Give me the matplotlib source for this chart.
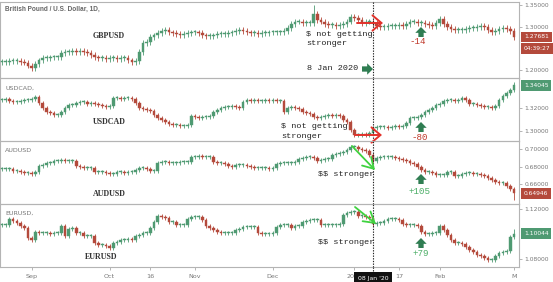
import numpy as np
import pandas as pd
import matplotlib
matplotlib.use("Agg")
import matplotlib.pyplot as plt

# ---------------- data (daily closes) ----------------
start_date = "2019-08-21"

gbp_close = [
    1.219, 1.219, 1.221, 1.221, 1.221,
    1.219, 1.217, 1.210, 1.205, 1.214,
    1.223, 1.228, 1.228, 1.230, 1.230,
    1.230, 1.240, 1.242, 1.242, 1.244,
    1.242, 1.244, 1.242, 1.240, 1.235,
    1.230, 1.228, 1.228, 1.226, 1.228,
    1.228, 1.226, 1.228, 1.228, 1.223,
    1.219, 1.221, 1.242, 1.263, 1.265,
    1.277, 1.281, 1.286, 1.291, 1.293,
    1.288, 1.286, 1.284, 1.281, 1.284,
    1.286, 1.288, 1.288, 1.286, 1.281,
    1.279, 1.279, 1.281, 1.284, 1.284,
    1.284, 1.286, 1.288, 1.291, 1.293,
    1.291, 1.288, 1.286, 1.286, 1.284,
    1.286, 1.286, 1.288, 1.288, 1.288,
    1.288, 1.291, 1.298, 1.307, 1.312,
    1.312, 1.309, 1.309, 1.309, 1.330,
    1.316, 1.312, 1.307, 1.305, 1.305,
    1.302, 1.305, 1.307, 1.312, 1.323,
    1.321, 1.316, 1.309, 1.312, 1.312,
    1.309, 1.302, 1.300, 1.300, 1.302,
    1.302, 1.302, 1.305, 1.302, 1.307,
    1.312, 1.312, 1.309, 1.309, 1.307,
    1.305, 1.302, 1.309, 1.319, 1.307,
    1.300, 1.295, 1.293, 1.293, 1.293,
    1.295, 1.298, 1.298, 1.300, 1.302,
    1.300, 1.293, 1.288, 1.291, 1.295,
    1.298, 1.295, 1.291, 1.27681,
]

cad_close = [
    1.3271, 1.3280, 1.3262, 1.3253, 1.3253,
    1.3262, 1.3271, 1.3271, 1.3280, 1.3298,
    1.3244, 1.3200, 1.3164, 1.3156, 1.3138,
    1.3138, 1.3164, 1.3200, 1.3227, 1.3227,
    1.3244, 1.3253, 1.3253, 1.3236, 1.3244,
    1.3236, 1.3227, 1.3218, 1.3209, 1.3218,
    1.3289, 1.3289, 1.3280, 1.3289, 1.3289,
    1.3280, 1.3244, 1.3200, 1.3191, 1.3182,
    1.3173, 1.3138, 1.3111, 1.3093, 1.3076,
    1.3058, 1.3049, 1.3049, 1.3040, 1.3040,
    1.3049, 1.3129, 1.3120, 1.3111, 1.3120,
    1.3120, 1.3129, 1.3164, 1.3182, 1.3200,
    1.3209, 1.3209, 1.3218, 1.3209, 1.3200,
    1.3253, 1.3271, 1.3262, 1.3271, 1.3262,
    1.3262, 1.3271, 1.3262, 1.3271, 1.3262,
    1.3262, 1.3164, 1.3200, 1.3209, 1.3200,
    1.3191, 1.3164, 1.3156, 1.3147, 1.3120,
    1.3111, 1.3120, 1.3129, 1.3138, 1.3129,
    1.3138, 1.3129, 1.3093, 1.3076, 1.3004,
    1.2960, 1.2960, 1.2969, 1.2960, 1.2978,
    1.3022, 1.3031, 1.3031, 1.3031, 1.3022,
    1.3031, 1.3040, 1.3031, 1.3040, 1.3067,
    1.3111, 1.3111, 1.3120, 1.3138, 1.3164,
    1.3182, 1.3200, 1.3227, 1.3236, 1.3262,
    1.3271, 1.3271, 1.3262, 1.3271, 1.3289,
    1.3271, 1.3236, 1.3236, 1.3227, 1.3218,
    1.3209, 1.3209, 1.3200, 1.3218, 1.3271,
    1.3307, 1.3333, 1.3360, 1.34045,
]

aud_close = [
    0.6774, 0.6774, 0.6774, 0.6751, 0.6751,
    0.6739, 0.6728, 0.6728, 0.6717, 0.6739,
    0.6808, 0.6819, 0.6842, 0.6842, 0.6865,
    0.6865, 0.6877, 0.6865, 0.6865, 0.6865,
    0.6808, 0.6797, 0.6785, 0.6785, 0.6785,
    0.6739, 0.6739, 0.6739, 0.6728, 0.6717,
    0.6717, 0.6739, 0.6739, 0.6728, 0.6739,
    0.6739, 0.6762, 0.6785, 0.6785, 0.6774,
    0.6751, 0.6751, 0.6842, 0.6854, 0.6854,
    0.6842, 0.6842, 0.6842, 0.6854, 0.6854,
    0.6854, 0.6911, 0.6911, 0.6922, 0.6911,
    0.6911, 0.6911, 0.6854, 0.6842, 0.6842,
    0.6831, 0.6808, 0.6797, 0.6819, 0.6819,
    0.6819, 0.6808, 0.6797, 0.6785, 0.6785,
    0.6785, 0.6785, 0.6774, 0.6785, 0.6831,
    0.6842, 0.6842, 0.6842, 0.6842, 0.6854,
    0.6888, 0.6899, 0.6911, 0.6911, 0.6899,
    0.6865, 0.6877, 0.6888, 0.6888, 0.6934,
    0.6945, 0.6957, 0.6968, 0.6991, 0.7025,
    0.7025, 0.7002, 0.6991, 0.6979, 0.6934,
    0.6865, 0.6899, 0.6911, 0.6911, 0.6911,
    0.6911, 0.6899, 0.6888, 0.6877, 0.6865,
    0.6842, 0.6831, 0.6797, 0.6762, 0.6739,
    0.6739, 0.6728, 0.6705, 0.6705, 0.6705,
    0.6739, 0.6739, 0.6694, 0.6694, 0.6717,
    0.6728, 0.6728, 0.6717, 0.6717, 0.6705,
    0.6694, 0.6671, 0.6648, 0.6625, 0.6614,
    0.6614, 0.6579, 0.6545, 0.64946,
]

eur_close = [
    1.1074, 1.1074, 1.1122, 1.1106, 1.1090,
    1.1066, 1.1050, 1.0970, 1.0954, 1.1018,
    1.1010, 1.1010, 1.1010, 1.1002, 1.1010,
    1.1010, 1.1066, 1.0986, 1.1042, 1.1050,
    1.1010, 1.1010, 1.0986, 1.0986, 1.0986,
    1.0930, 1.0914, 1.0914, 1.0906, 1.0890,
    1.0930, 1.0938, 1.0954, 1.0954, 1.0962,
    1.0954, 1.0986, 1.0994, 1.1010, 1.1010,
    1.1050, 1.1098, 1.1146, 1.1138, 1.1130,
    1.1098, 1.1098, 1.1074, 1.1074, 1.1074,
    1.1122, 1.1138, 1.1138, 1.1138, 1.1114,
    1.1066, 1.1050, 1.1034, 1.1018, 1.1010,
    1.1010, 1.1010, 1.1010, 1.1034, 1.1042,
    1.1058, 1.1058, 1.1058, 1.1058, 1.1010,
    1.1002, 1.1002, 1.1002, 1.1010, 1.1058,
    1.1074, 1.1074, 1.1074, 1.1050, 1.1066,
    1.1066, 1.1098, 1.1106, 1.1114, 1.1114,
    1.1114, 1.1074, 1.1074, 1.1074, 1.1074,
    1.1074, 1.1082, 1.1154, 1.1170, 1.1178,
    1.1178, 1.1146, 1.1146, 1.1138, 1.1130,
    1.1082, 1.1090, 1.1090, 1.1106, 1.1122,
    1.1122, 1.1122, 1.1114, 1.1082, 1.1074,
    1.1074, 1.1074, 1.1066, 1.1018, 1.1002,
    1.1002, 1.1010, 1.1010, 1.1066, 1.1034,
    1.0994, 1.0954, 1.0930, 1.0930, 1.0922,
    1.0898, 1.0874, 1.0858, 1.0834, 1.0826,
    1.0810, 1.0794, 1.0794, 1.0826, 1.0850,
    1.0858, 1.0866, 1.0978, 1.10044,
]

# a few long wicks visible in the picture (index: price)
gbp_high = {84: 1.350}
cad_high = {138: 1.3430}
aud_low = {138: 0.6420}
eur_high = {138: 1.1040}

tick_dates = ["2019-09-02", "2019-10-01", "2019-10-16", "2019-11-01",
              "2019-12-02", "2020-01-01", "2020-01-17", "2020-02-03", "2020-03-02"]
tick_labels = ["Sep", "Oct", "16", "Nov", "Dec", "20", "17", "Feb", "M"]
marker_date = "2020-01-08"
marker_label = "08 Jan '20"

# ---------------- style ----------------
W, H = 553, 282
UP = "#4f9a72"
DOWN = "#b44a3c"
GRID = "#b4b4b4"
TXT = "#777777"
MONO = "Liberation Mono"
SERIF = "Liberation Serif"
SANS = "Liberation Sans"

fig = plt.figure(figsize=(W / 100, H / 100), dpi=100)
fig.patch.set_facecolor("white")

dates = pd.bdate_range(start_date, periods=len(gbp_close))


def date_index(d):
    return int(np.searchsorted(dates.values, np.datetime64(d)))


def rect(top, bottom, left=0, right=519):
    return [left / W, 1 - bottom / H, (right - left) / W, (bottom - top) / H]


def fpx(x, y):
    return (x, H - y)


def draw_candles(ax, closes, highs=None, lows=None):
    c = np.asarray(closes, float)
    o = np.empty_like(c)
    o[1:] = c[:-1]
    o[0] = c[0]
    x = np.arange(len(c))
    lo_lim, hi_lim = ax.get_ylim()
    rng = hi_lim - lo_lim
    top = np.maximum(o, c)
    bot = np.minimum(o, c)
    hi = top + 0.035 * rng
    lo = bot - 0.035 * rng
    for k, v in (highs or {}).items():
        hi[k] = max(hi[k], v)
    for k, v in (lows or {}).items():
        lo[k] = min(lo[k], v)
    body = np.maximum(top - bot, 0.012 * rng)
    cols = np.where(c >= o, UP, DOWN)
    ax.vlines(x, lo, hi, colors=cols, lw=0.6, zorder=2)
    ax.bar(x, body, bottom=bot, width=0.72, color=cols, edgecolor=cols,
           lw=0.3, zorder=3)
    return c[-1], cols[-1]


panels = [
    dict(close=gbp_close, hi=gbp_high, lo=None, box=(2, 78),
         ylim=(1.1817, 1.358), ticks=[1.20, 1.30, 1.35]),
    dict(close=cad_close, hi=cad_high, lo=None, box=(78, 141),
         ylim=(1.2907, 1.3467), ticks=[1.30, 1.32]),
    dict(close=aud_close, hi=None, lo=aud_low, box=(141, 204),
         ylim=(0.6374, 0.7094), ticks=[0.66, 0.68, 0.70]),
    dict(close=eur_close, hi=eur_high, lo=None, box=(204, 267),
         ylim=(1.0738, 1.1242), ticks=[1.08, 1.12]),
]

jan8 = date_index(marker_date)
axes = []
for k, p in enumerate(panels):
    ax = fig.add_axes(rect(*p["box"]))
    ax.set_facecolor("none")
    ax.set_xlim(-0.54, 139.35)
    ax.set_ylim(*p["ylim"])
    last, lastcol = draw_candles(ax, p["close"], p["hi"], p["lo"])
    for s in ax.spines.values():
        s.set_color(GRID)
        s.set_linewidth(0.8)
    ax.yaxis.tick_right()
    ax.set_yticks(p["ticks"])
    ax.set_yticklabels([f"{t:.5f}" for t in p["ticks"]])
    ax.tick_params(axis="y", length=2, width=0.5, color="#999999",
                   labelsize=4.3, labelcolor=TXT, pad=2)
    ax.axvline(jan8, color="#222222", lw=0.8, ls=(0, (1.2, 1.2)), zorder=6)
    # last price box
    ax.annotate(f"{last:.5f}", xy=(1, last), xycoords=("axes fraction", "data"),
                xytext=(3.5, 0), textcoords="offset points", ha="left", va="center",
                fontsize=4.3, color="white", zorder=10, annotation_clip=False,
                bbox=dict(boxstyle="square,pad=0.5", fc=lastcol, ec="none"))
    if k == 0:
        ax.annotate("04:39:27", xy=(1, last), xycoords=("axes fraction", "data"),
                    xytext=(3.5, -8.0), textcoords="offset points", ha="left",
                    va="center", fontsize=4.3, color="white", zorder=10,
                    annotation_clip=False,
                    bbox=dict(boxstyle="square,pad=0.5", fc=lastcol, ec="none"))
    if k < 3:
        ax.set_xticks([])
    else:
        ax.set_xticks([date_index(d) for d in tick_dates])
        ax.set_xticklabels(tick_labels)
        ax.tick_params(axis="x", length=2, width=0.5, color="#999999",
                       labelsize=4.6, labelcolor=TXT, pad=3)
        for lab in ax.get_xticklabels():
            if lab.get_text() == "20":
                lab.set_horizontalalignment("right")
        ax.axvline(jan8, ymin=-0.06, ymax=0, color="#222222", lw=0.8,
                   ls=(0, (1.2, 1.2)), clip_on=False, zorder=6)
        ax.annotate(marker_label, xy=(jan8, 0), xycoords=("data", "axes fraction"),
                    xytext=(0, -8), textcoords="offset points", ha="center",
                    va="center", fontsize=4.4, color="white", zorder=12,
                    annotation_clip=False,
                    bbox=dict(boxstyle="square,pad=0.55", fc="#111111", ec="none"))
    axes.append(ax)


def ftext(x, y, s, **kw):
    fig.text(x / W, 1 - y / H, s, parse_math=False, **kw)


# panel titles (top-left, small grey)
ftext(5, 9, "British Pound / U.S. Dollar, 1D,", fontsize=4.7, family=SANS,
      color="#666666", fontweight="bold", va="center")
ftext(5, 88, "USDCAD,", fontsize=4.6, color="#777777", va="center")
ftext(5, 150, "AUDUSD", fontsize=4.6, color="#777777", va="center")
ftext(5, 213, "EURUSD,", fontsize=4.6, color="#777777", va="center")

# serif symbol labels
for x, y, s in [(93, 36, "GBPUSD"), (93, 122, "USDCAD"), (93, 194, "AUDUSD"),
                (85, 257, "EURUSD")]:
    ftext(x, y, s, fontsize=5.8, family=SERIF, color="#333333",
          fontweight="bold", va="center")

# monospace notes
mono_kw = dict(fontsize=6.1, family=MONO, color="#222222", va="center")
ftext(306, 35, "$ not getting", **mono_kw)
ftext(306, 43.5, "stronger", **mono_kw)
ftext(307, 69, "8 Jan 2020", **mono_kw)
ftext(281, 127, "$ not getting", **mono_kw)
ftext(281, 136, "stronger", **mono_kw)
ftext(318, 175, "$$ stronger", **mono_kw)
ftext(318, 242, "$$ stronger", **mono_kw)

# pip counts
num_kw = dict(fontsize=6.6, family=MONO, ha="center", va="center")
ftext(418, 42, "-14", color="#c0392b", **num_kw)
ftext(420, 137, "-80", color="#c0392b", **num_kw)
ftext(420, 191, "+105", color="#4cae67", **num_kw)
ftext(421, 254, "+79", color="#4cae67", **num_kw)

# block arrows
block = dict(arrowstyle="simple,head_length=0.42,head_width=0.82,tail_width=0.38",
             fc="#2f7d52", ec="none", shrinkA=0, shrinkB=0, mutation_scale=10)
for ytip in (27, 122, 174, 238):
    axes[0].annotate("", xy=fpx(421, ytip), xycoords="figure pixels",
                     xytext=fpx(421, ytip + 10), textcoords="figure pixels",
                     arrowprops=block, annotation_clip=False, zorder=11)
axes[0].annotate("", xy=fpx(373, 69), xycoords="figure pixels",
                 xytext=fpx(362, 69), textcoords="figure pixels",
                 arrowprops=block, annotation_clip=False, zorder=11)

# red arrows
red = dict(arrowstyle="->,head_length=0.65,head_width=0.55", color="#e2322b",
           lw=1.4, shrinkA=0, shrinkB=0, mutation_scale=10)
axes[0].annotate("", xy=fpx(383, 23), xycoords="figure pixels",
                 xytext=fpx(357, 23), textcoords="figure pixels",
                 arrowprops=red, annotation_clip=False, zorder=11)
axes[1].annotate("", xy=fpx(382, 135), xycoords="figure pixels",
                 xytext=fpx(355, 135), textcoords="figure pixels",
                 arrowprops=red, annotation_clip=False, zorder=11)

# green line arrows
grn = dict(arrowstyle="->,head_length=0.75,head_width=0.45", color="#3fd23f",
           lw=1.3, shrinkA=0, shrinkB=0, mutation_scale=10)
axes[2].annotate("", xy=fpx(375, 170), xycoords="figure pixels",
                 xytext=fpx(352, 146), textcoords="figure pixels",
                 arrowprops=grn, annotation_clip=False, zorder=11)
axes[3].annotate("", xy=fpx(376, 224), xycoords="figure pixels",
                 xytext=fpx(355, 207), textcoords="figure pixels",
                 arrowprops=grn, annotation_clip=False, zorder=11)

fig.savefig("out.png", dpi=100, facecolor="white")
